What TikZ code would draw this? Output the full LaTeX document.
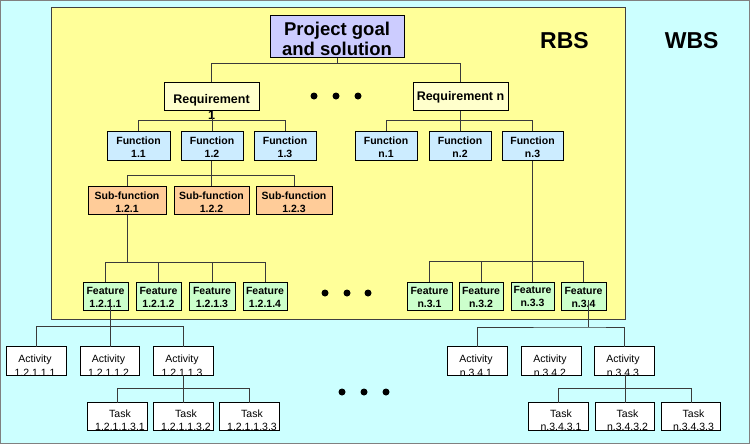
\documentclass[tikz,border=0pt]{standalone}
\usepackage{fontspec}
\setmainfont{Liberation Sans}
\usetikzlibrary{fit}
\definecolor{cyanbg}{HTML}{CCFFFF}
\definecolor{yellowbg}{HTML}{FFFF99}
\definecolor{goalc}{HTML}{CCCCFF}
\definecolor{reqc}{HTML}{FFFFCC}
\definecolor{funcc}{HTML}{CCECFF}
\definecolor{subc}{HTML}{FFCC99}
\definecolor{featc}{HTML}{CCFFCC}
\definecolor{connc}{HTML}{3A3A3A}
\tikzset{
  bx/.style={draw=black, line width=1pt, inner sep=0pt},
  bxline/.style={draw=black, line width=1.2pt},
  conn/.style={draw=connc, line width=1pt},
  txt/.style={inner sep=0pt, align=center},
  fbold/.style={font=\bfseries\fontsize{10.5}{13}\selectfont},
  freg/.style={font=\fontsize{10.5}{13}\selectfont},
  dot/.style={circle, fill=black, inner sep=0pt, minimum size=7pt},
  big/.style={font=\bfseries\fontsize{23}{25}\selectfont, inner sep=0pt}
}
\newcommand\mkbox[6]{\node[bx,fill=#6,fit={(#2,#3) (#4,#5)}] (#1) {};}
\newcommand\mkwbox[5]{\node[inner sep=0pt,fill=white,fit={(#2,#3) (#4,#5)}] (#1) {};}
\newcommand\mktxt[4]{\node[txt,#2] (#1t) at ([yshift=#3]#1.center) {#4};}
\newcommand\cliptxt[6]{\begin{scope}\clip (#1.south west) rectangle (#1.north east);
  \node[freg,inner sep=0pt,anchor=base] (#1a) at ([xshift=#2,yshift=-#3]#1.north) {#5};
  \node[freg,inner sep=0pt,anchor=base] (#1b) at ([xshift=#2,yshift=-#4]#1.north) {#6};
  \end{scope}
  \draw[bxline] (#1.south west) rectangle (#1.north east);}
\begin{document}
\begin{tikzpicture}[x=1pt,y=-1pt]
\useasboundingbox (0,0) rectangle (754,445);
\fill[white] (0,0) rectangle (754,445);
\draw[fill=cyanbg, draw=gray, line width=1pt] (0.5,0.5) rectangle (749.5,443.5);
\draw[fill=yellowbg, draw=black!75, line width=1pt] (51,7) rectangle (625,319);

\node[big] (rbs) at (564.5,41) {RBS};
\node[big] (wbs) at (691.7,41) {WBS};

% goal
\mkbox{goal}{270}{15}{404}{57}{goalc}
\node[txt,font=\bfseries\fontsize{18.5}{20.5}\selectfont] (goalt) at ([yshift=-3pt]goal.center) {Project goal\\and solution};

% requirements
\mkbox{r1}{164}{82}{259}{110}{reqc}
\mkbox{rn}{413}{82}{508}{110}{reqc}
\node[txt,font=\bfseries\fontsize{12.5}{16}\selectfont] (r1t) at ([yshift=-10.5pt]r1.center) {Requirement\\1};
\node[txt,font=\bfseries\fontsize{12.5}{16}\selectfont] (rnt) at ([yshift=-1pt]rn.center) {Requirement n};

% functions
\mkbox{f11}{107}{131}{170}{160}{funcc}
\mkbox{f12}{181}{131}{243}{160}{funcc}
\mkbox{f13}{254}{131}{316}{160}{funcc}
\mkbox{fn1}{355}{131}{417}{160}{funcc}
\mkbox{fn2}{429}{131}{491}{160}{funcc}
\mkbox{fn3}{502}{131}{563}{160}{funcc}
\mktxt{f11}{fbold}{-2pt}{Function\\1.1}
\mktxt{f12}{fbold}{-2pt}{Function\\1.2}
\mktxt{f13}{fbold}{-2pt}{Function\\1.3}
\mktxt{fn1}{fbold}{-2pt}{Function\\n.1}
\mktxt{fn2}{fbold}{-2pt}{Function\\n.2}
\mktxt{fn3}{fbold}{-2pt}{Function\\n.3}

% sub-functions
\mkbox{s121}{88}{186}{166}{214}{subc}
\mkbox{s122}{174}{186}{249}{214}{subc}
\mkbox{s123}{256}{186}{332}{214}{subc}
\mktxt{s121}{fbold}{-2pt}{Sub-function\\1.2.1}
\mktxt{s122}{fbold}{-2pt}{Sub-function\\1.2.2}
\mktxt{s123}{fbold}{-2pt}{Sub-function\\1.2.3}

% features
\mkbox{fe1}{83}{282}{128}{310}{featc}
\mkbox{fe2}{136}{282}{181}{310}{featc}
\mkbox{fe3}{189}{282}{235}{310}{featc}
\mkbox{fe4}{243}{282}{287}{310}{featc}
\mkbox{fen1}{407}{282}{452}{310}{featc}
\mkbox{fen2}{459}{282}{503}{310}{featc}
\mkbox{fen3}{511}{282}{554}{310}{featc}
\mkbox{fen4}{561}{282}{606}{310}{featc}
\mktxt{fe1}{fbold}{-1pt}{Feature\\1.2.1.1}
\mktxt{fe2}{fbold}{-1pt}{Feature\\1.2.1.2}
\mktxt{fe3}{fbold}{-1pt}{Feature\\1.2.1.3}
\mktxt{fe4}{fbold}{-1pt}{Feature\\1.2.1.4}
\mktxt{fen1}{fbold}{-1pt}{Feature\\n.3.1}
\mktxt{fen2}{fbold}{-1pt}{Feature\\n.3.2}
\mktxt{fen3}{fbold}{0pt}{Feature\\n.3.3}
\mktxt{fen4}{fbold}{-1pt}{Feature\\n.3.4}

% activities
\mkwbox{a11}{7}{347}{66}{375}
\mkwbox{a12}{81}{347}{139}{375}
\mkwbox{a13}{154}{347}{213}{375}
\mkwbox{an1}{448}{347}{507}{375}
\mkwbox{an2}{522}{347}{581}{375}
\mkwbox{an3}{595}{347}{654}{375}
\cliptxt{a11}{-1.5pt}{16pt}{29.5pt}{Activity}{1.2.1.1.1}
\cliptxt{a12}{-1.5pt}{16pt}{29.5pt}{Activity}{1.2.1.1.2}
\cliptxt{a13}{-1.5pt}{16pt}{29.5pt}{Activity}{1.2.1.1.3}
\cliptxt{an1}{-1.5pt}{16pt}{29.5pt}{Activity}{n.3.4.1}
\cliptxt{an2}{-1.5pt}{16pt}{29.5pt}{Activity}{n.3.4.2}
\cliptxt{an3}{-1.5pt}{16pt}{29.5pt}{Activity}{n.3.4.3}

% tasks
\mkwbox{t1}{88}{403}{147}{430}
\mkwbox{t2}{154}{403}{213}{430}
\mkwbox{t3}{220}{403}{279}{430}
\mkwbox{tn1}{529}{403}{588}{430}
\mkwbox{tn2}{596}{403}{654}{430}
\mkwbox{tn3}{662}{403}{720}{430}
\cliptxt{t1}{2.5pt}{14.5pt}{27.5pt}{Task}{1.2.1.1.3.1}
\cliptxt{t2}{2.5pt}{14.5pt}{27.5pt}{Task}{1.2.1.1.3.2}
\cliptxt{t3}{2.5pt}{14.5pt}{27.5pt}{Task}{1.2.1.1.3.3}
\cliptxt{tn1}{2.5pt}{14.5pt}{27.5pt}{Task}{n.3.4.3.1}
\cliptxt{tn2}{2.5pt}{14.5pt}{27.5pt}{Task}{n.3.4.3.2}
\cliptxt{tn3}{2.5pt}{14.5pt}{27.5pt}{Task}{n.3.4.3.3}

% dots
\node[dot] (d1) at (314,96) {};
\node[dot] (d2) at (336,96) {};
\node[dot] (d3) at (358,96) {};
\node[dot] (d4) at (325,293) {};
\node[dot] (d5) at (347,293) {};
\node[dot] (d6) at (368,293) {};
\node[dot] (d7) at (342,392) {};
\node[dot] (d8) at (364,392) {};
\node[dot] (d9) at (386,392) {};

% connectors
\draw[conn] (goal.south) -- ++(0,6) coordinate (j0);
\draw[conn] (r1.north) |- (j0) -| (rn.north);

\draw[conn] (f12.north) -- (f12.north |- r1.south);
\coordinate (j1) at ([yshift=-10pt]r1.south);
\draw[conn] (f11.north) |- (j1) -| (f13.north);

\draw[conn] (fn2.north) -- (fn2.north |- rn.south);
\coordinate (j2) at ([yshift=-10pt]rn.south);
\draw[conn] (fn1.north) |- (j2) -| (fn3.north);

\draw[conn] (s122.north) -- (s122.north |- f12.south);
\coordinate (j3) at ([yshift=-15pt]f12.south);
\draw[conn] (s121.north) |- (j3) -| (s123.north);

\coordinate (j4) at ([yshift=-48pt]s121.south);
\draw[conn] (s121.south) -- (j4);
\draw[conn] (fe1.north) |- (j4) -| (fe4.north);
\draw[conn] (fe2.north) -- (fe2.north |- j4);
\draw[conn] (fe3.north) -- (fe3.north |- j4);

\draw[conn] (fen3.north) -- (fen3.north |- fn3.south);
\coordinate (j5) at ([yshift=20pt]fen3.north);
\draw[conn] (fen1.north) |- (j5) -| (fen4.north);
\draw[conn] (fen2.north) -- (fen2.north |- j5);

\coordinate (k1) at ([yshift=-3pt]fe1.center);
\draw[conn] (a12.north) -- (a12.north |- k1);
\coordinate (j6) at ([yshift=20pt]a12.north);
\draw[conn] (a11.north) |- (j6) -| (a13.north);

\draw[conn] (t2.north) -- (t2.north |- a13.south);
\coordinate (j7) at ([yshift=14pt]t2.north);
\draw[conn] (t1.north) |- (j7) -| (t3.north);

\coordinate (k2) at (588,300);
\coordinate (j8) at (588,327);
\draw[conn] (k2) -- (j8);
\draw[conn] (an1.north) |- (j8) -| (an3.north);

\draw[conn] (tn2.north) -- (tn2.north |- an3.south);
\coordinate (j9) at ([yshift=14pt]tn2.north);
\draw[conn] (tn1.north) |- (j9) -| (tn3.north);
\end{tikzpicture}
\end{document}
